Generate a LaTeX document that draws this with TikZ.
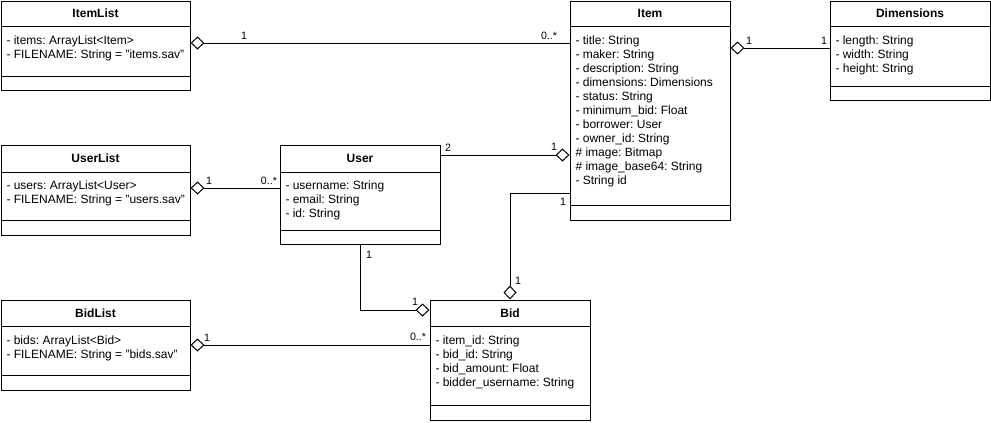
\documentclass[tikz,border=0pt]{standalone}
\usepackage{fontspec}
\setmainfont{Liberation Sans}
\usetikzlibrary{arrows.meta,fit}

\newcommand\attrfont{\fontsize{9pt}{10.5pt}\selectfont}
\newcommand\multfont{\fontsize{8pt}{9pt}\selectfont}
\frenchspacing

\begin{document}
\begin{tikzpicture}[x=0.75pt,y=-0.75pt,line width=0.75pt,
  classbox/.style={draw,inner sep=0pt},
  classname/.style={font=\attrfont\bfseries},
  attrs/.style={anchor=north west,align=left,inner sep=0pt,font=\attrfont},
  mult/.style={font=\multfont,inner sep=0pt},
  aggr/.style={{Diamond[open,length=10.5pt,width=9.75pt]}-}]
\useasboundingbox (0,0) rectangle (991,422);

% classes
\node [classbox,fit={(1,1) (190,90)}] (itemlist) {};
\draw (1,26) -- (190,26) (1,76) -- (190,76);
\node [classname] (itemlist-name) at (95.5,13.5) {ItemList};
\node [attrs] (itemlist-attrs) at (6,35)
  {- items: ArrayList<Item>\\- FILENAME: String = "items.sav"};

\node [classbox,fit={(570,1) (730,220)}] (item) {};
\draw (570,26) -- (730,26) (570,205) -- (730,205);
\node [classname] (item-name) at (650,13.5) {Item};
\node [attrs] (item-attrs) at (575,35)
  {- title: String\\- maker: String\\- description: String\\
   - dimensions: Dimensions\\- status: String\\- minimum\_bid: Float\\
   - borrower: User\\- owner\_id: String\\\# image: Bitmap\\
   \# image\_base64: String\\- String id};

\node [classbox,fit={(830,1) (990,100)}] (dimensions) {};
\draw (830,26) -- (990,26) (830,86) -- (990,86);
\node [classname] (dimensions-name) at (910,13.5) {Dimensions};
\node [attrs] (dimensions-attrs) at (835,35)
  {- length: String\\- width: String\\- height: String};

\node [classbox,fit={(1,145) (190,235)}] (userlist) {};
\draw (1,172) -- (190,172) (1,220) -- (190,220);
\node [classname] (userlist-name) at (95.5,158.5) {UserList};
\node [attrs] (userlist-attrs) at (6,180)
  {- users: ArrayList<User>\\- FILENAME: String = "users.sav"};

\node [classbox,fit={(280,145) (440,244)}] (user) {};
\draw (280,172) -- (440,172) (280,230) -- (440,230);
\node [classname] (user-name) at (360,158.5) {User};
\node [attrs] (user-attrs) at (285,180)
  {- username: String\\- email: String\\- id: String};

\node [classbox,fit={(1,300) (190,390)}] (bidlist) {};
\draw (1,326) -- (190,326) (1,375) -- (190,375);
\node [classname] (bidlist-name) at (95.5,313) {BidList};
\node [attrs] (bidlist-attrs) at (6,335)
  {- bids: ArrayList<Bid>\\- FILENAME: String = "bids.sav"};

\node [classbox,fit={(430,300) (590,420)}] (bid) {};
\draw (430,326) -- (590,326) (430,405) -- (590,405);
\node [classname] (bid-name) at (510,313) {Bid};
\node [attrs] (bid-attrs) at (435,335)
  {- item\_id: String\\- bid\_id: String\\- bid\_amount: Float\\
   - bidder\_username: String};

% associations
\coordinate (y-il) at (0,43);
\coordinate (y-dim) at (0,48);
\coordinate (y-ul) at (0,188);
\coordinate (y-ui) at (0,155);
\coordinate (y-bi) at (0,193);
\coordinate (y-ub) at (0,310);
\coordinate (y-bl) at (0,345);
\draw [aggr] (itemlist.east |- y-il) -- (item.west |- y-il);
\draw [aggr] (item.east |- y-dim) -- (dimensions.west |- y-dim);
\draw [aggr] (userlist.east |- y-ul) -- (user.west |- y-ul);
\draw [aggr] (item.west |- y-ui) -- (user.east |- y-ui);
\draw [aggr] (bid.north) |- (item.west |- y-bi);
\draw [aggr] (bid.west |- y-ub) -| (user.south);
\draw [aggr] (bidlist.east |- y-bl) -- (bid.west |- y-bl);

% multiplicities
\node [mult] (m-il-a) at (244,36) {1};
\node [mult] (m-il-b) at (549,36) {0..*};
\node [mult] (m-dim-a) at (749,41) {1};
\node [mult] (m-dim-b) at (824,41) {1};
\node [mult] (m-ul-a) at (209,181) {1};
\node [mult] (m-ul-b) at (269,181) {0..*};
\node [mult] (m-ui-a) at (448,148) {2};
\node [mult] (m-ui-b) at (554,147) {1};
\node [mult] (m-bi-a) at (563,202) {1};
\node [mult] (m-bi-b) at (518,281) {1};
\node [mult] (m-ub-a) at (369,255) {1};
\node [mult] (m-ub-b) at (415,302) {1};
\node [mult] (m-bl-a) at (207,338) {1};
\node [mult] (m-bl-b) at (418,337) {0..*};
\end{tikzpicture}
\end{document}
